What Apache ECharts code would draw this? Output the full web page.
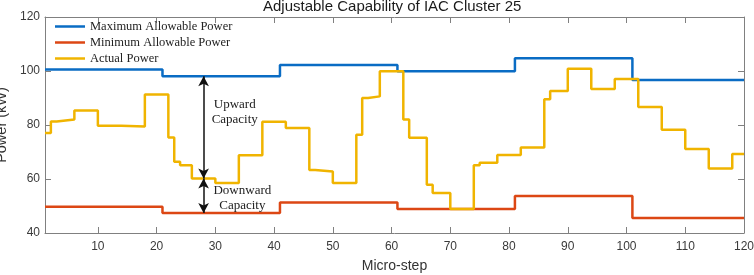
<!DOCTYPE html>
<html>
<head>
<meta charset="utf-8">
<script src="https://cdn.jsdelivr.net/npm/echarts@6/dist/echarts.min.js"></script>
<style>
  html, body { margin: 0; padding: 0; background: #fff; }
  #chart { width: 754px; height: 275px; }
</style>
</head>
<body>
<div id="chart"></div>
<script>
// stairs data: value holds from step[i] until step[i+1]
const lastStep = 120
const maxSteps = [1, 21, 41, 61, 81, 101]
const maxPower = [100.6, 98.1, 102.2, 99.9, 104.7, 96.7]
const minSteps = [1, 21, 41, 61, 81, 101]
const minPower = [49.7, 47.4, 51.3, 48.9, 53.7, 45.6]
const actualSteps = [1, 2, 3, 6, 10, 14, 18, 22, 23, 24, 26, 30, 34, 38, 42, 46, 47, 50, 54, 55, 56, 58,
  62, 63, 66, 67, 70, 74, 75, 78, 82, 86, 87, 90, 94, 98, 102, 106, 110, 114, 118]
const actualPower = [77, 81.3, 82, 85.4, 79.7, 79.4, 91.3, 75.4, 66.4, 65.1, 60.2, 58.5, 68.8, 81.2, 78.9, 63.3, 62.8, 58.5, 76.4, 90.0, 90.6, 99.9,
  82, 75.3, 57.9, 54.8, 48.9, 65.1, 66.0, 68.9, 71.7, 89.5, 92.6, 100.8, 93.3, 97.0, 86.7, 78.2, 71.1, 63.9, 69.3]
const xTicks = [10, 20, 30, 40, 50, 60, 70, 80, 90, 100, 110, 120]
const yTicks = [40, 60, 80, 100, 120]
// capacity arrows at micro-step 28
const arrowStep = 28
const upperAt = 98.1
const actualAt = 60.2
const lowerAt = 47.4

function stairs (steps, vals) {
  let d = steps.map((s, i) => [s, vals[i]])
  d.push([lastStep, vals[vals.length - 1]])
  return d
}

let axisColor = '#808080'
let serif = '"Liberation Serif", "Times New Roman", serif'
let sans = '"Liberation Sans", Arial, sans-serif'

let myChart = echarts.init(document.getElementById('chart'))
myChart.setOption({
  animation: false,
  title: {
    text: 'Adjustable Capability of IAC Cluster 25',
    left: 263,
    top: -1,
    padding: 0,
    textStyle: { fontFamily: sans, fontSize: 15, fontWeight: 'normal', color: '#1a1a1a' }
  },
  legend: {
    orient: 'vertical',
    left: 55,
    top: 20,
    icon: 'rect',
    itemWidth: 30,
    itemHeight: 2.5,
    itemGap: 3,
    padding: 0,
    textStyle: { fontFamily: serif, fontSize: 12.5, color: '#222' },
    data: ['Maximum Allowable Power', 'Minimum Allowable Power', 'Actual Power']
  },
  grid: { left: 45, right: 10, top: 17, bottom: 42, outerBoundsMode: 'none' },
  xAxis: [
    {
      type: 'value',
      min: 1,
      max: lastStep,
      position: 'bottom',
      name: 'Micro-step',
      nameLocation: 'middle',
      nameGap: 26,
      nameTextStyle: { fontFamily: sans, fontSize: 14, color: '#333' },
      axisLine: { lineStyle: { color: axisColor, width: 1 } },
      axisTick: { inside: true, length: 6, customValues: xTicks, lineStyle: { color: axisColor } },
      axisLabel: { customValues: xTicks, fontFamily: sans, fontSize: 12, color: '#3a3a3a', margin: 8 },
      splitLine: { show: false }
    },
    {
      type: 'value',
      min: 1,
      max: lastStep,
      position: 'top',
      axisLine: { lineStyle: { color: axisColor, width: 1 } },
      axisTick: { inside: true, length: 6, customValues: xTicks, lineStyle: { color: axisColor } },
      axisLabel: { show: false },
      splitLine: { show: false }
    }
  ],
  yAxis: [
    {
      type: 'value',
      min: 40,
      max: 120,
      position: 'left',
      name: 'Power (kW)',
      nameLocation: 'middle',
      nameGap: 29,
      nameTextStyle: { fontFamily: sans, fontSize: 14.5, color: '#333' },
      axisLine: { show: true, lineStyle: { color: axisColor, width: 1 } },
      axisTick: { show: true, inside: true, length: 6, customValues: yTicks, lineStyle: { color: axisColor } },
      axisLabel: { customValues: yTicks, fontFamily: sans, fontSize: 12, color: '#3a3a3a', margin: 5 },
      splitLine: { show: false }
    },
    {
      type: 'value',
      min: 40,
      max: 120,
      position: 'right',
      axisLine: { show: true, lineStyle: { color: axisColor, width: 1 } },
      axisTick: { show: true, inside: true, length: 6, customValues: yTicks, lineStyle: { color: axisColor } },
      axisLabel: { show: false },
      splitLine: { show: false }
    }
  ],
  series: [
    {
      name: 'Maximum Allowable Power',
      type: 'line',
      step: 'end',
      symbol: 'none',
      color: '#0a6cc4',
      lineStyle: { width: 2.5 },
      data: stairs(maxSteps, maxPower)
    },
    {
      name: 'Minimum Allowable Power',
      type: 'line',
      step: 'end',
      symbol: 'none',
      color: '#dc4714',
      lineStyle: { width: 2.5 },
      data: stairs(minSteps, minPower)
    },
    {
      name: 'Actual Power',
      type: 'line',
      step: 'end',
      symbol: 'none',
      color: '#f0b400',
      lineStyle: { width: 2.5 },
      data: stairs(actualSteps, actualPower),
      markLine: {
        silent: true,
        symbol: ['arrow', 'arrow'],
        symbolSize: [8, 10],
        label: { show: false },
        lineStyle: { color: '#111', width: 1.5, type: 'solid' },
        data: [
          [{ coord: [arrowStep, upperAt] }, { coord: [arrowStep, actualAt] }],
          [{ coord: [arrowStep, actualAt] }, { coord: [arrowStep, lowerAt] }]
        ]
      },
      markPoint: {
        silent: true,
        symbol: 'circle',
        symbolSize: 1,
        itemStyle: { color: 'rgba(0,0,0,0)' },
        label: {
          show: true,
          position: 'inside',
          fontFamily: serif,
          fontSize: 13,
          lineHeight: 15,
          color: '#222'
        },
        data: [
          { coord: [33.3, 84.7], label: { formatter: 'Upward\nCapacity' } },
          { coord: [34.6, 53.0], label: { formatter: 'Downward\nCapacity' } }
        ]
      }
    }
  ]
})
</script>
</body>
</html>
